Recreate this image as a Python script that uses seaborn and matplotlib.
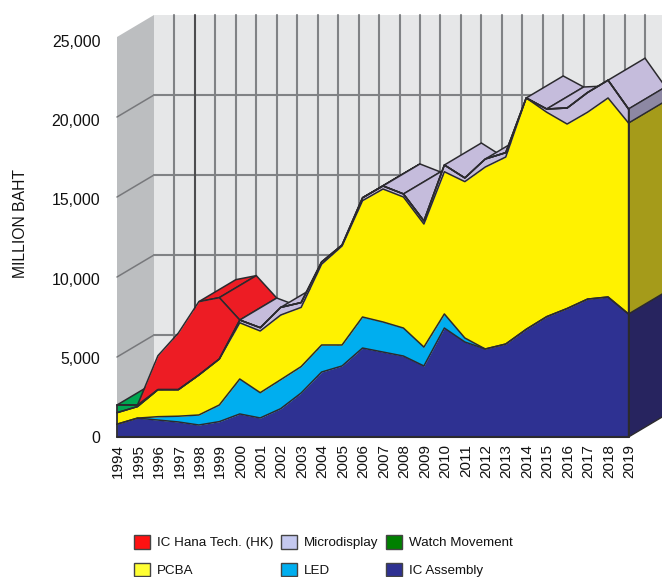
import matplotlib
matplotlib.use('Agg')
import matplotlib.pyplot as plt
from matplotlib.patches import Patch
from matplotlib.transforms import ScaledTranslation
import numpy as np
import seaborn as sns

years = list(range(1994, 2020))
y_ticks = [0, 5000, 10000, 15000, 20000, 25000]

assembly_top = [800, 1180, 1060, 940, 750, 960, 1440, 1190, 1770, 2750, 4060, 4440, 5560,
                5310, 5060, 4440, 6810, 5940, 5500, 5810, 6730, 7520, 8030, 8620, 8750, 7690]
led_top = [800, 1180, 1270, 1300, 1375, 2000, 3625, 2770, 3580, 4400, 5750, 5750, 7500,
           7190, 6810, 5620, 7690, 6190, 5500, 5810, 6730, 7520, 8030, 8620, 8750, 7690]
pcba_top = [1520, 1900, 2960, 2960, 3875, 4875, 7140, 6625, 7625, 8100, 10800, 11940, 14770,
            15500, 15000, 13310, 16580, 15960, 16875, 17500, 21190, 20300, 19560, 20300, 21190, 19625]
micro_top = [1520, 1900, 2960, 2960, 3875, 4875, 7310, 6830, 8100, 8400, 10940, 12000, 14950,
             15690, 15190, 13500, 17000, 16190, 17375, 17770, 21190, 20500, 20560, 21530, 22300, 20500]
watch_top = [2000, 2000, 2960, 2960, 3875, 4875, 7310, 6830, 8100, 8400, 10940, 12000, 14950,
             15690, 15190, 13500, 17000, 16190, 17375, 17770, 21190, 20500, 20560, 21530, 22300, 20500]
hana_top = [2000, 2000, 5080, 6500, 8460, 8710, 7310, 6830, 8100, 8400, 10940, 12000, 14950,
            15690, 15190, 13500, 17000, 16190, 17375, 17770, 21190, 20500, 20560, 21530, 22300, 20500]

tops = [assembly_top, led_top, pcba_top, micro_top, watch_top, hana_top]
face_colors = ['#2e3192', '#00aeef', '#fff200', '#c5bcdc', '#00a651', '#ed1c24']
side_colors = ['#27245f', '#00aeef', '#a59b1a', '#8d88a3', '#00a651', '#ed1c24']

legend_labels = ['IC Hana Tech. (HK)', 'PCBA', 'Microdisplay', 'LED', 'Watch Movement', 'IC Assembly']
legend_colors = ['#ff1212', '#ffff33', '#c5c9f0', '#00aeef', '#008000', '#2e3192']

# depth of the fake 3d box, in data units
depth_x = 37 / 20.46
depth_y = 22 / 0.016
line_col = '#2b2a2e'

sns.set_theme(style='white')
plt.rcParams['font.family'] = ['Liberation Sans', 'DejaVu Sans']

fig = plt.figure(figsize=(6.62, 5.77), dpi=100)
ax = fig.add_axes([117 / 662, 1 - 437 / 577, 511.5 / 662, 400 / 577])
ax.patch.set_alpha(0)

x0, x1 = years[0], years[-1]
y_top = y_ticks[-1]

# walls
ax.fill([x0 + depth_x, x1 + depth_x, x1 + depth_x, x0 + depth_x],
        [depth_y, depth_y, y_top + depth_y, y_top + depth_y],
        color='#e6e7e8', lw=0, clip_on=False, zorder=1)
ax.fill([x0, x0 + depth_x, x0 + depth_x, x0],
        [0, depth_y, y_top + depth_y, y_top],
        color='#bcbec0', lw=0, clip_on=False, zorder=1)

# grid on the walls
for v in y_ticks[1:-1]:
    ax.plot([x0, x0 + depth_x], [v, v + depth_y], color='#77787b', lw=1.1, clip_on=False, zorder=2)
    ax.plot([x0 + depth_x, x1 + depth_x], [v + depth_y, v + depth_y], color='#808285', lw=1.5,
            clip_on=False, zorder=2)
for i, yr in enumerate(years[1:]):
    ax.plot([yr + depth_x, yr + depth_x], [depth_y, y_top + depth_y],
            color='#4d4d4f' if i == 1 else '#808285', lw=1.5, clip_on=False, zorder=2)

# top surfaces, left to right so the later ones cover the earlier ones
slope_limit = depth_y / depth_x
z = 3.0
for i in range(len(years) - 1):
    a = hana_top[i]
    b = hana_top[i + 1]
    # a surface rising too fast faces away from the viewer
    if (b - a) >= slope_limit:
        continue
    color = face_colors[0]
    for k in range(len(tops) - 1, 0, -1):
        if tops[k][i] > tops[k - 1][i] or tops[k][i + 1] > tops[k - 1][i + 1]:
            color = face_colors[k]
            break
    xs = [years[i], years[i + 1], years[i + 1] + depth_x, years[i] + depth_x]
    ys = [a, b, b + depth_y, a + depth_y]
    ax.fill(xs, ys, facecolor=color, edgecolor=line_col, lw=1.1, clip_on=False, zorder=z)
    z += 0.01

# front faces
lower = np.zeros(len(years))
for top, color in zip(tops, face_colors):
    top = np.array(top)
    ax.fill_between(years, lower, top, where=top >= lower, color=color, lw=0, clip_on=False, zorder=4)
    lower = top

# end cap on the right
lower_end = 0
for top, color in zip(tops, side_colors):
    if top[-1] > lower_end:
        ax.fill([x1, x1 + depth_x, x1 + depth_x, x1],
                [lower_end, lower_end + depth_y, top[-1] + depth_y, top[-1]],
                facecolor=color, edgecolor=line_col, lw=1.0, clip_on=False, zorder=5)
        lower_end = top[-1]

# outlines of the front face
for top in tops:
    sns.lineplot(x=years, y=top, ax=ax, color=line_col, lw=1.1, clip_on=False, zorder=6, legend=False)
ax.plot([x0, x0], [0, hana_top[0]], color=line_col, lw=1.3, clip_on=False, zorder=6)
ax.plot([x1, x1], [0, hana_top[-1]], color=line_col, lw=1.3, clip_on=False, zorder=6)
ax.plot([x0, x1], [0, 0], color=line_col, lw=1.5, clip_on=False, zorder=6)

ax.set_xlim(x0, x1)
ax.set_ylim(0, y_top)
ax.set_xticks(years)
ax.set_xticklabels([str(y) for y in years], rotation=90, fontsize=11, color='#111111')
ax.set_yticks(y_ticks)
ax.set_yticklabels([f'{v:,}' for v in y_ticks], fontsize=11.4, color='#111111')
ax.tick_params(axis='x', length=0, pad=5)
ax.tick_params(axis='y', length=0, pad=12)
ax.set_xlabel('')
ax.set_ylabel('')
for s in ax.spines.values():
    s.set_visible(False)

# the printed labels sit a little off the grid, more so towards the top
for lab in ax.get_xticklabels():
    lab.set_transform(lab.get_transform() + ScaledTranslation(1 / 100, 0, fig.dpi_scale_trans))
for lab, v in zip(ax.get_yticklabels(), y_ticks):
    lab.set_transform(lab.get_transform() + ScaledTranslation(0, -v / y_top * 4 / 100, fig.dpi_scale_trans))

fig.text(21 / 662, 1 - 223 / 577, 'MILLION BAHT', rotation=90, ha='center', va='center',
         fontsize=11.3, color='#111111')

handles = [Patch(facecolor=c, edgecolor='#444444', lw=1) for c in legend_colors]
ax.legend(handles, legend_labels, ncol=3, loc='upper left',
          bbox_to_anchor=(134 / 662, 1 - 535 / 577), bbox_transform=fig.transFigure,
          frameon=False, fontsize=9.6, handlelength=1.2, handleheight=1.2, handletextpad=0.5,
          columnspacing=0.6, labelspacing=1.0, borderpad=0, borderaxespad=0,
          labelcolor='#111111')

fig.savefig('out.png', dpi=100)
